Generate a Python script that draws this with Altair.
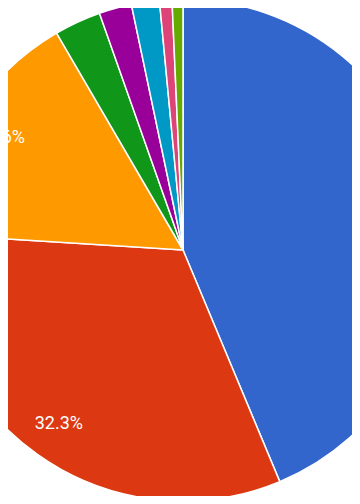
import altair as alt
import pandas as pd

categories = ["A", "B", "C", "D", "E", "F", "G", "H"]
values = [43.7, 32.3, 15.6, 3.0, 2.1, 1.8, 0.8, 0.7]
colors = ["#3366cc", "#dc3912", "#ff9900", "#109618", "#990099", "#0099c6", "#dd4477", "#66aa00"]

total = sum(values)
df = pd.DataFrame({
    "category": categories,
    "value": values,
    "order": list(range(len(categories))),
    "label": [f"{v / total * 100:.1f}%" if v / total >= 0.05 else "" for v in values],
})

cx, cy = 175, 242
base = alt.Chart(df).encode(
    theta=alt.Theta("value:Q", stack=True),
    order=alt.Order("order:Q"),
    x=alt.value(cx),
    y=alt.value(cy),
)

arcs = base.mark_arc(outerRadius=251, stroke="white", strokeWidth=1.5).encode(
    color=alt.Color("category:N", scale=alt.Scale(domain=categories, range=colors), legend=None),
)

labels = base.mark_text(font="Roboto", fontSize=18, color="white", align="center", baseline="middle").encode(
    radius=alt.value(214),
    text="label:N",
)

chart = (arcs + labels).properties(
    width=344, height=488, padding=0, autosize=alt.AutoSizeParams(type="none")
).configure_view(stroke=None)

chart.save("out.html", embed_options={"renderer": "svg", "actions": False})
